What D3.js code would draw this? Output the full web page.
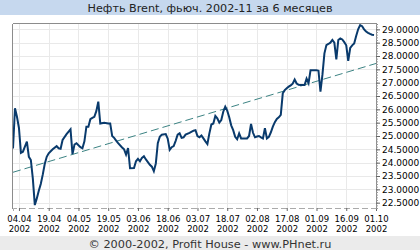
<!DOCTYPE html>
<html>
<head>
<meta charset="utf-8">
<script src="https://cdn.jsdelivr.net/npm/d3@7"></script>
<style>
body { margin: 0; background: #fff; }
svg { display: block; }
text { font-family: "DejaVu Sans", sans-serif; }
</style>
</head>
<body>
<svg id="chart"></svg>
<script>
// ~~~~~~~~~ DATA ~~~~~~~~~
var dates = [
  "2002-04-01","2002-04-02","2002-04-03","2002-04-04","2002-04-05","2002-04-06","2002-04-07","2002-04-08",
  "2002-04-09","2002-04-10","2002-04-11","2002-04-12","2002-04-13","2002-04-14","2002-04-15","2002-04-16",
  "2002-04-17","2002-04-18","2002-04-19","2002-04-21","2002-04-23","2002-04-24","2002-04-25","2002-04-26",
  "2002-04-28","2002-04-30","2002-05-01","2002-05-02","2002-05-03","2002-05-05","2002-05-06","2002-05-07",
  "2002-05-08","2002-05-09","2002-05-10","2002-05-11","2002-05-12","2002-05-13","2002-05-14","2002-05-15",
  "2002-05-17","2002-05-19","2002-05-20","2002-05-21","2002-05-22","2002-05-23","2002-05-24","2002-05-26",
  "2002-05-27","2002-05-28","2002-05-29","2002-05-30","2002-06-01","2002-06-02","2002-06-03","2002-06-04",
  "2002-06-05","2002-06-06","2002-06-07","2002-06-08","2002-06-09","2002-06-10","2002-06-11","2002-06-12",
  "2002-06-13","2002-06-14","2002-06-15","2002-06-17","2002-06-18","2002-06-19","2002-06-20","2002-06-21",
  "2002-06-22","2002-06-23","2002-06-24","2002-06-25","2002-06-26","2002-06-27","2002-06-29","2002-07-01",
  "2002-07-02","2002-07-03","2002-07-04","2002-07-05","2002-07-06","2002-07-07","2002-07-08","2002-07-09",
  "2002-07-10","2002-07-11","2002-07-12","2002-07-13","2002-07-14","2002-07-15","2002-07-16","2002-07-17",
  "2002-07-18","2002-07-19","2002-07-20","2002-07-21","2002-07-22","2002-07-23","2002-07-24","2002-07-25",
  "2002-07-26","2002-07-28","2002-07-29","2002-07-30","2002-07-31","2002-08-01","2002-08-02","2002-08-03",
  "2002-08-04","2002-08-05","2002-08-06","2002-08-07","2002-08-08","2002-08-09","2002-08-10","2002-08-11",
  "2002-08-12","2002-08-13","2002-08-14","2002-08-15","2002-08-16","2002-08-17","2002-08-18","2002-08-19",
  "2002-08-20","2002-08-21","2002-08-22","2002-08-23","2002-08-24","2002-08-26","2002-08-27","2002-08-28",
  "2002-08-29","2002-08-30","2002-09-01","2002-09-02","2002-09-03","2002-09-04","2002-09-05","2002-09-06",
  "2002-09-07","2002-09-08","2002-09-09","2002-09-10","2002-09-11","2002-09-12","2002-09-13","2002-09-14",
  "2002-09-15","2002-09-16","2002-09-17","2002-09-18","2002-09-19","2002-09-20","2002-09-21","2002-09-22",
  "2002-09-23","2002-09-24","2002-09-25","2002-09-26","2002-09-27","2002-09-28","2002-09-29","2002-09-30"
];

var prices = [
  24.53,26.04,25.72,25.30,24.37,24.41,24.60,24.79,
  24.22,24.10,23.40,22.41,22.66,22.95,23.20,23.55,
  23.95,24.22,24.35,24.50,24.62,24.54,24.52,24.85,
  25.07,25.25,24.32,24.68,24.73,24.58,24.54,24.80,
  25.35,25.35,25.63,25.68,25.72,25.93,26.29,25.47,
  25.50,25.47,25.47,25.00,24.93,24.83,24.73,24.57,
  24.50,24.30,24.55,23.79,23.80,24.05,24.14,24.05,
  24.18,24.24,24.12,24.02,23.92,23.85,23.68,23.97,
  24.73,24.97,25.05,25.07,24.90,24.48,24.58,24.62,
  24.82,25.05,25.10,24.93,24.95,25.05,25.12,25.20,
  25.22,25.00,24.95,25.02,24.91,24.80,24.70,25.10,
  25.43,25.47,25.75,25.66,25.50,25.60,25.91,26.10,
  25.95,25.70,25.40,25.22,24.97,24.88,25.10,24.91,
  24.91,24.91,25.00,25.45,25.12,24.95,24.98,25.00,
  24.95,24.91,25.29,24.91,24.97,25.14,25.35,25.52,
  25.64,25.70,25.79,26.60,26.72,26.79,26.85,26.90,
  26.96,27.12,26.97,26.92,26.91,26.91,27.15,26.98,
  27.47,27.47,27.47,27.45,26.66,27.30,28.10,28.41,
  28.45,28.50,28.60,28.50,27.87,28.60,28.66,28.62,
  28.52,28.40,27.82,28.30,28.40,28.47,28.75,29.00,
  29.16,29.12,29.00,28.92,28.87,28.83,28.80,28.79
];

// trend line end points
var trendDates = ["2002-04-01", "2002-10-01"];
var trendValues = [23.64, 27.72];

var xTickLabels = ["04.04","19.04","04.05","19.05","03.06","18.06","03.07","18.07","02.08","17.08","01.09","16.09","01.10"];
var yTickValues = [22.5,23.0,23.5,24.0,24.5,25.0,25.5,26.0,26.5,27.0,27.5,28.0,28.5,29.0];

var titleText = "Нефть Brent, фьюч. 2002-11 за 6 месяцев";
var footerText = "© 2000-2002, Profit House - www.PHnet.ru";

(function drawChart() {
    // ~~~~~~~~~ SVG SETUP ~~~~~~~~~
    var width = 420;
    var height = 250;
    var plotLeft = 13, plotRight = 376, plotTop = 24, plotBottom = 208;

    var svg = d3.select("#chart").attr("width", width).attr("height", height);

    var parseDate = d3.timeParse("%Y-%m-%d");
    var parseTick = d3.timeParse("%d.%m.%Y");

    var x = d3.scaleTime()
        .domain([parseDate("2002-04-01"), parseDate("2002-10-01")])
        .range([plotLeft, plotRight]);

    var y = d3.scaleLinear()
        .domain([22.3, 29.2])
        .range([plotBottom, plotTop]);

    var series = dates.map(function(d, i){ return {date: parseDate(d), value: prices[i]}; });
    var trend = trendDates.map(function(d, i){ return {date: parseDate(d), value: trendValues[i]}; });
    var xTicks = xTickLabels.map(function(t){ return parseTick(t + ".2002"); });

    // title and footer bands
    svg.append("rect").attr("x", 0).attr("y", 0).attr("width", width).attr("height", 15).attr("fill", "#c6d8ee");
    svg.append("text")
        .attr("x", 210).attr("y", 12)
        .attr("text-anchor", "middle")
        .style("font-size", "11.2px")
        .attr("fill", "#222")
        .text(titleText);

    svg.append("rect").attr("x", 0).attr("y", 236).attr("width", width).attr("height", 14).attr("fill", "#ebebeb");
    svg.append("text")
        .attr("x", 210).attr("y", 247.5)
        .attr("text-anchor", "middle")
        .style("font-size", "11.3px")
        .attr("fill", "#333")
        .text(footerText);

    // ~~~~~~~~~ GRID ~~~~~~~~~
    var grid = svg.append("g").attr("class", "grid").attr("stroke", "#e9e9e9").attr("stroke-width", 1);

    grid.selectAll("line.h")
        .data(yTickValues)
        .enter().append("line")
        .attr("class", "h")
        .attr("x1", plotLeft).attr("x2", plotRight)
        .attr("y1", function(d){ return Math.round(y(d)) + 0.5; })
        .attr("y2", function(d){ return Math.round(y(d)) + 0.5; });

    grid.selectAll("line.v")
        .data(xTicks)
        .enter().append("line")
        .attr("class", "v")
        .attr("y1", plotTop).attr("y2", plotBottom)
        .attr("x1", function(d){ return Math.round(x(d)) + 0.5; })
        .attr("x2", function(d){ return Math.round(x(d)) + 0.5; });

    // ~~~~~~~~~ LINES ~~~~~~~~~
    var line = d3.line()
        .x(function(d){ return x(d.date); })
        .y(function(d){ return y(d.value); });

    svg.append("path")
        .datum(trend)
        .attr("d", line)
        .attr("fill", "none")
        .attr("stroke", "#3c8383")
        .attr("stroke-width", 1)
        .attr("stroke-dasharray", "8,4");

    svg.append("path")
        .datum(series)
        .attr("d", line)
        .attr("fill", "none")
        .attr("stroke", "#093a6c")
        .attr("stroke-width", 2);

    // ~~~~~~~~~ AXES / FRAME ~~~~~~~~~
    // top border
    svg.append("line")
        .attr("x1", plotLeft).attr("x2", plotRight + 1)
        .attr("y1", plotTop - 0.5).attr("y2", plotTop - 0.5)
        .attr("stroke", "#8c8c8c");

    // left edge
    svg.append("line")
        .attr("x1", plotLeft - 0.5).attr("x2", plotLeft - 0.5)
        .attr("y1", plotTop).attr("y2", plotBottom + 1)
        .attr("stroke", "#8c8c8c");

    // bottom axis, dashed with date ticks
    var xAxis = svg.append("g")
        .attr("transform", "translate(0," + plotBottom + ")")
        .call(d3.axisBottom(x).tickValues(xTicks).tickSize(3).tickFormat(""));
    xAxis.select(".domain").attr("stroke", "#aaaaaa").attr("stroke-dasharray", "6,3");
    xAxis.selectAll(".tick line").attr("stroke", "#666");

    var xLabels = xAxis.selectAll(".tick").append("text")
        .attr("fill", "#000")
        .attr("text-anchor", "middle")
        .style("font-size", "8.5px");
    xLabels.append("tspan").attr("x", 0).attr("y", 14).text(function(d, i){ return xTickLabels[i]; });
    xLabels.append("tspan").attr("x", 0).attr("y", 24).text("2002");

    // right axis with minor ticks
    var minor = d3.range(223, 292).map(function(v){ return v / 10; });
    var yMinor = svg.append("g")
        .attr("transform", "translate(" + plotRight + ",0)")
        .call(d3.axisRight(y).tickValues(minor).tickSize(2).tickFormat(""));
    yMinor.select(".domain").attr("stroke", "#8c8c8c");
    yMinor.selectAll(".tick line").attr("stroke", "#999");

    var yAxis = svg.append("g")
        .attr("transform", "translate(" + plotRight + ",0)")
        .call(d3.axisRight(y).tickValues(yTickValues).tickSize(4).tickPadding(2).tickFormat(d3.format(".4f")));
    yAxis.select(".domain").remove();
    yAxis.selectAll(".tick line").attr("stroke", "#666");
    yAxis.selectAll(".tick text")
        .attr("fill", "#000")
        .style("font-size", "9px");
})();
</script>
</body>
</html>
